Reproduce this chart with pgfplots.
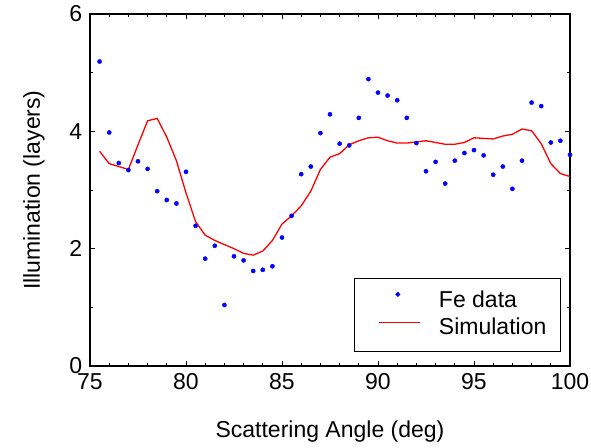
\documentclass[border=0pt]{standalone}
\usepackage{pgfplots}
\pgfplotsset{compat=1.18}
\usepackage{fontspec}
\setmainfont{Liberation Sans}
\begin{document}
\fontsize{23bp}{27bp}\selectfont
\begin{tikzpicture}
\begin{axis}[
  scale only axis,
  width=480bp, height=352bp,
  xmin=75, xmax=100, ymin=0, ymax=6,
  xtick={75,80,...,100}, ytick={0,2,4,6},
  minor xtick={76,77,78,79,81,82,83,84,86,87,88,89,91,92,93,94,96,97,98,99},
  minor ytick={1,3,5},
  tick align=inside,
  major tick length=5bp, minor tick length=3bp,
  every tick/.style={black, line width=0.8bp},
  axis line style={line width=1.3bp},
  /pgf/number format/assume math mode=true,
  tick label style={font=\fontsize{23bp}{27bp}\selectfont},
  label style={font=\fontsize{23bp}{27bp}\selectfont},
  xlabel={Scattering Angle (deg)},
  ylabel={Illumination (layers)},
  xlabel style={at={(axis description cs:0.5,-0.1875)}, anchor=center},
  ylabel style={at={(axis description cs:-0.117,0.5)}, anchor=center},
  legend style={at={(axis description cs:0.981,0.040)}, anchor=south east,
    draw=black, line width=1bp, inner xsep=14bp, inner ysep=12bp,
    font=\fontsize{23bp}{27bp}\selectfont,
    nodes={inner sep=0pt, text height=17bp, text depth=5bp},
    row sep=5bp, column sep=18bp},
  legend cell align=left,
]
\addplot[only marks, mark=*, mark size=2.1bp, color=blue,
  legend image code/.code={\path[draw=none] (0bp,6bp) rectangle (52bp,6.1bp); \fill[blue] (29.5bp,7bp) circle (1.9bp);}]
coordinates {
(75.5,5.19) (76.0,3.98) (76.5,3.46) (77.0,3.34) (77.5,3.49) (78.0,3.36)
(78.5,2.98) (79.0,2.83) (79.5,2.77) (80.0,3.31) (80.5,2.39) (81.0,1.83)
(81.5,2.05) (82.0,1.04) (82.5,1.87) (83.0,1.80) (83.5,1.62) (84.0,1.64)
(84.5,1.70) (85.0,2.19) (85.5,2.56) (86.0,3.27) (86.5,3.40) (87.0,3.97)
(87.5,4.29) (88.0,3.79) (88.5,3.76) (89.0,4.23) (89.5,4.89) (90.0,4.66)
(90.5,4.61) (91.0,4.53) (91.5,4.23) (92.0,3.80) (92.5,3.32) (93.0,3.48)
(93.5,3.11) (94.0,3.50) (94.5,3.63) (95.0,3.68) (95.5,3.59) (96.0,3.26)
(96.5,3.40) (97.0,3.02) (97.5,3.50) (98.0,4.49) (98.5,4.43) (99.0,3.81)
(99.5,3.84) (100.0,3.60)
};
\addlegendentry{Fe data}
\addplot[color=red, line width=1.3bp, no marks,
  legend image code/.code={\path[draw=none] (0bp,6bp) rectangle (52bp,6.1bp); \draw[red, line width=1.3bp] (11bp,6bp) -- (52bp,6bp);}]
coordinates {
(75.5,3.66) (76.0,3.45) (76.5,3.40) (77.0,3.35) (77.5,3.77) (78.0,4.18)
(78.5,4.22) (79.0,3.90) (79.5,3.50) (80.0,2.95) (80.5,2.46) (81.0,2.23)
(81.5,2.14) (82.0,2.07) (82.5,2.00) (83.0,1.92) (83.5,1.89) (84.0,1.96)
(84.5,2.14) (85.0,2.42) (85.5,2.56) (86.0,2.73) (86.5,2.98) (87.0,3.35)
(87.5,3.56) (88.0,3.62) (88.5,3.77) (89.0,3.84) (89.5,3.89) (90.0,3.90)
(90.5,3.84) (91.0,3.80) (91.5,3.80) (92.0,3.82) (92.5,3.84) (93.0,3.81)
(93.5,3.78) (94.0,3.78) (94.5,3.81) (95.0,3.89) (95.5,3.88) (96.0,3.87)
(96.5,3.92) (97.0,3.95) (97.5,4.04) (98.0,4.01) (98.5,3.79) (99.0,3.45)
(99.5,3.28) (100.0,3.23)
};
\addlegendentry{Simulation}
\end{axis}
\pgfresetboundingbox
\path[use as bounding box] (-90bp,-82bp) rectangle (501bp,366bp);
\end{tikzpicture}
\end{document}
